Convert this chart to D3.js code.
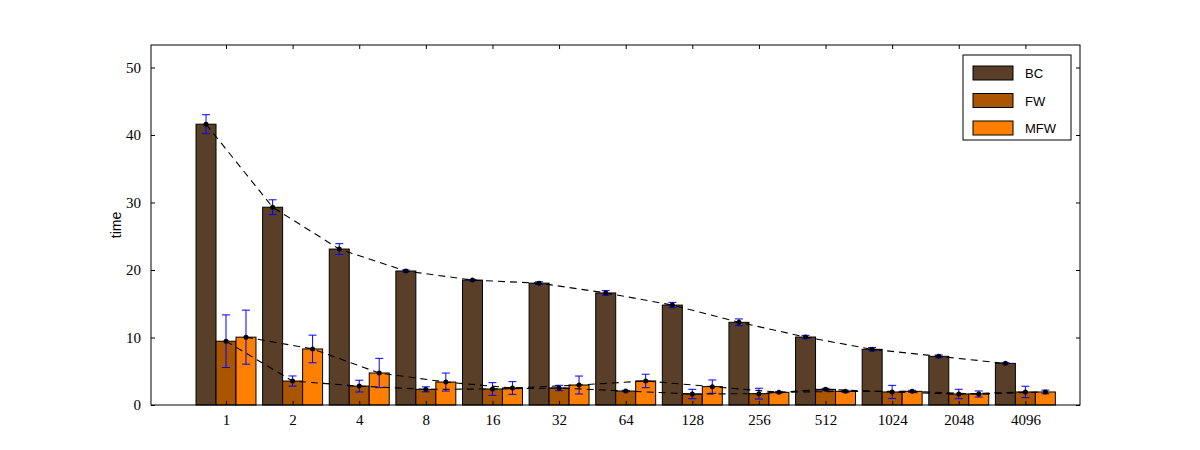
<!DOCTYPE html>
<html>
<head>
<meta charset="utf-8">
<script src="https://cdn.jsdelivr.net/npm/d3@7"></script>
<style>
  body { margin: 0; background: #fff; }
</style>
</head>
<body>
<div id="chart"></div>
<script>
/* DATA */
const categories = ["1", "2", "4", "8", "16", "32", "64", "128", "256", "512", "1024", "2048", "4096"];
const seriesNames = ["BC", "FW", "MFW"];
const bcValues = [41.6, 29.3, 23.1, 19.85, 18.5, 18.05, 16.6, 14.8, 12.25, 10.07, 8.25, 7.21, 6.17];
const bcErrors = [1.4, 1.1, 0.8, 0.15, 0.1, 0.2, 0.35, 0.4, 0.5, 0.25, 0.25, 0.2, 0.1];
const fwValues = [9.45, 3.55, 2.8, 2.32, 2.37, 2.52, 2.07, 1.63, 1.68, 2.32, 1.93, 1.63, 1.93];
const fwErrors = [3.9, 0.75, 0.87, 0.37, 0.94, 0.4, 0.1, 0.7, 0.8, 0.15, 0.98, 0.7, 0.85];
const mfwValues = [10.05, 8.3, 4.74, 3.4, 2.52, 2.96, 3.56, 2.72, 1.88, 2.02, 2.02, 1.63, 1.93];
const mfwErrors = [4.0, 2.05, 2.17, 1.33, 0.94, 1.33, 1.0, 0.99, 0.1, 0.15, 0.15, 0.45, 0.27];
const yTicks = [0, 10, 20, 30, 40, 50];

/* CONSTANTS */
const width = 1200, height = 450,
  margin = { top: 45, bottom: 45, left: 151, right: 120 };
const colors = ["#5a3f28", "#aa5500", "#ff8000"];
const barWidth = 0.3;

const series = [
  { name: seriesNames[0], values: bcValues, errors: bcErrors, offset: -1 },
  { name: seriesNames[1], values: fwValues, errors: fwErrors, offset: 0 },
  { name: seriesNames[2], values: mfwValues, errors: mfwErrors, offset: 1 },
];

const svg = d3.select("#chart")
  .append("svg")
  .attr("width", width)
  .attr("height", height)
  .style("font-family", "'Liberation Serif', serif");

const x = d3.scaleLinear()
  .domain([-1.126, 12.82])
  .range([margin.left, width - margin.right]);

const y = d3.scaleLinear()
  .domain([0, 53.33])
  .range([height - margin.bottom, margin.top]);

const catX = (i, s) => x(i + s.offset * barWidth);

/* BARS */
series.forEach((s, si) => {
  svg.append("g")
    .selectAll("rect")
    .data(s.values)
    .join("rect")
    .attr("x", (d, i) => catX(i, s) - x(barWidth / 2) + x(0))
    .attr("width", x(barWidth) - x(0))
    .attr("y", d => y(d))
    .attr("height", d => y(0) - y(d))
    .attr("fill", colors[si])
    .attr("stroke", "#000")
    .attr("stroke-width", 1);
});

/* ERROR BARS */
series.forEach(s => {
  const g = svg.append("g").attr("stroke", "#0000ff").attr("stroke-width", 1);
  s.values.forEach((d, i) => {
    const cx = catX(i, s);
    const lo = y(d - s.errors[i]), hi = y(d + s.errors[i]);
    g.append("line").attr("x1", cx).attr("x2", cx).attr("y1", lo).attr("y2", hi);
    g.append("line").attr("x1", cx - 4).attr("x2", cx + 4).attr("y1", lo).attr("y2", lo);
    g.append("line").attr("x1", cx - 4).attr("x2", cx + 4).attr("y1", hi).attr("y2", hi);
  });
});

/* DASHED LINES AND DOTS */
series.forEach(s => {
  const line = d3.line()
    .x((d, i) => catX(i, s))
    .y(d => y(d));
  svg.append("path")
    .datum(s.values)
    .attr("d", line)
    .attr("fill", "none")
    .attr("stroke", "#000")
    .attr("stroke-width", 1.1)
    .attr("stroke-dasharray", "7,5");
  svg.append("g")
    .selectAll("circle")
    .data(s.values)
    .join("circle")
    .attr("cx", (d, i) => catX(i, s))
    .attr("cy", d => y(d))
    .attr("r", 2.5)
    .attr("fill", "#000");
});

/* AXES */
const x0 = margin.left, x1 = width - margin.right, y0 = height - margin.bottom, y1 = margin.top;
const tickLen = 4;

const xAxis = d3.axisBottom(x)
  .tickValues(d3.range(categories.length))
  .tickFormat(i => categories[i])
  .tickSizeInner(-tickLen).tickSizeOuter(0).tickPadding(9);
svg.append("g").attr("transform", `translate(0,${y0})`).call(xAxis)
  .call(g => g.select(".domain").remove())
  .call(g => g.selectAll("text").attr("font-size", 15).attr("fill", "#000").attr("font-family", "'Liberation Serif', serif"));

const xTop = d3.axisTop(x)
  .tickValues(d3.range(categories.length))
  .tickFormat("")
  .tickSizeInner(-tickLen).tickSizeOuter(0);
svg.append("g").attr("transform", `translate(0,${y1})`).call(xTop)
  .call(g => g.select(".domain").remove());

const yAxis = d3.axisLeft(y)
  .tickValues(yTicks)
  .tickSizeInner(-tickLen).tickSizeOuter(0).tickPadding(10);
svg.append("g").attr("transform", `translate(${x0},0)`).call(yAxis)
  .call(g => g.select(".domain").remove())
  .call(g => g.selectAll("text").attr("font-size", 15).attr("fill", "#000").attr("font-family", "'Liberation Serif', serif"));

const yRight = d3.axisRight(y)
  .tickValues(yTicks)
  .tickFormat("")
  .tickSizeInner(-tickLen).tickSizeOuter(0);
svg.append("g").attr("transform", `translate(${x1},0)`).call(yRight)
  .call(g => g.select(".domain").remove());

svg.append("rect")
  .attr("x", x0).attr("y", y1)
  .attr("width", x1 - x0).attr("height", y0 - y1)
  .attr("fill", "none").attr("stroke", "#000").attr("stroke-width", 1);

svg.append("text")
  .attr("transform", `translate(121,${(y0 + y1) / 2}) rotate(-90)`)
  .attr("text-anchor", "middle")
  .attr("font-family", "'Liberation Sans', Arial, sans-serif")
  .attr("font-size", 14)
  .text("time");

/* LEGEND */
const legend = svg.append("g").attr("transform", "translate(963,55)");
legend.append("rect")
  .attr("width", 108).attr("height", 85)
  .attr("fill", "#fff").attr("stroke", "#000").attr("stroke-width", 1);
seriesNames.forEach((name, i) => {
  const ly = 11 + i * 27.5;
  legend.append("rect")
    .attr("x", 10).attr("y", ly).attr("width", 40).attr("height", 14)
    .attr("fill", colors[i]).attr("stroke", "#000").attr("stroke-width", 1);
  legend.append("text")
    .attr("x", 62).attr("y", ly + 12)
    .attr("font-family", "'Liberation Sans', Arial, sans-serif")
    .attr("font-size", 13)
    .text(name);
});
</script>
</body>
</html>
